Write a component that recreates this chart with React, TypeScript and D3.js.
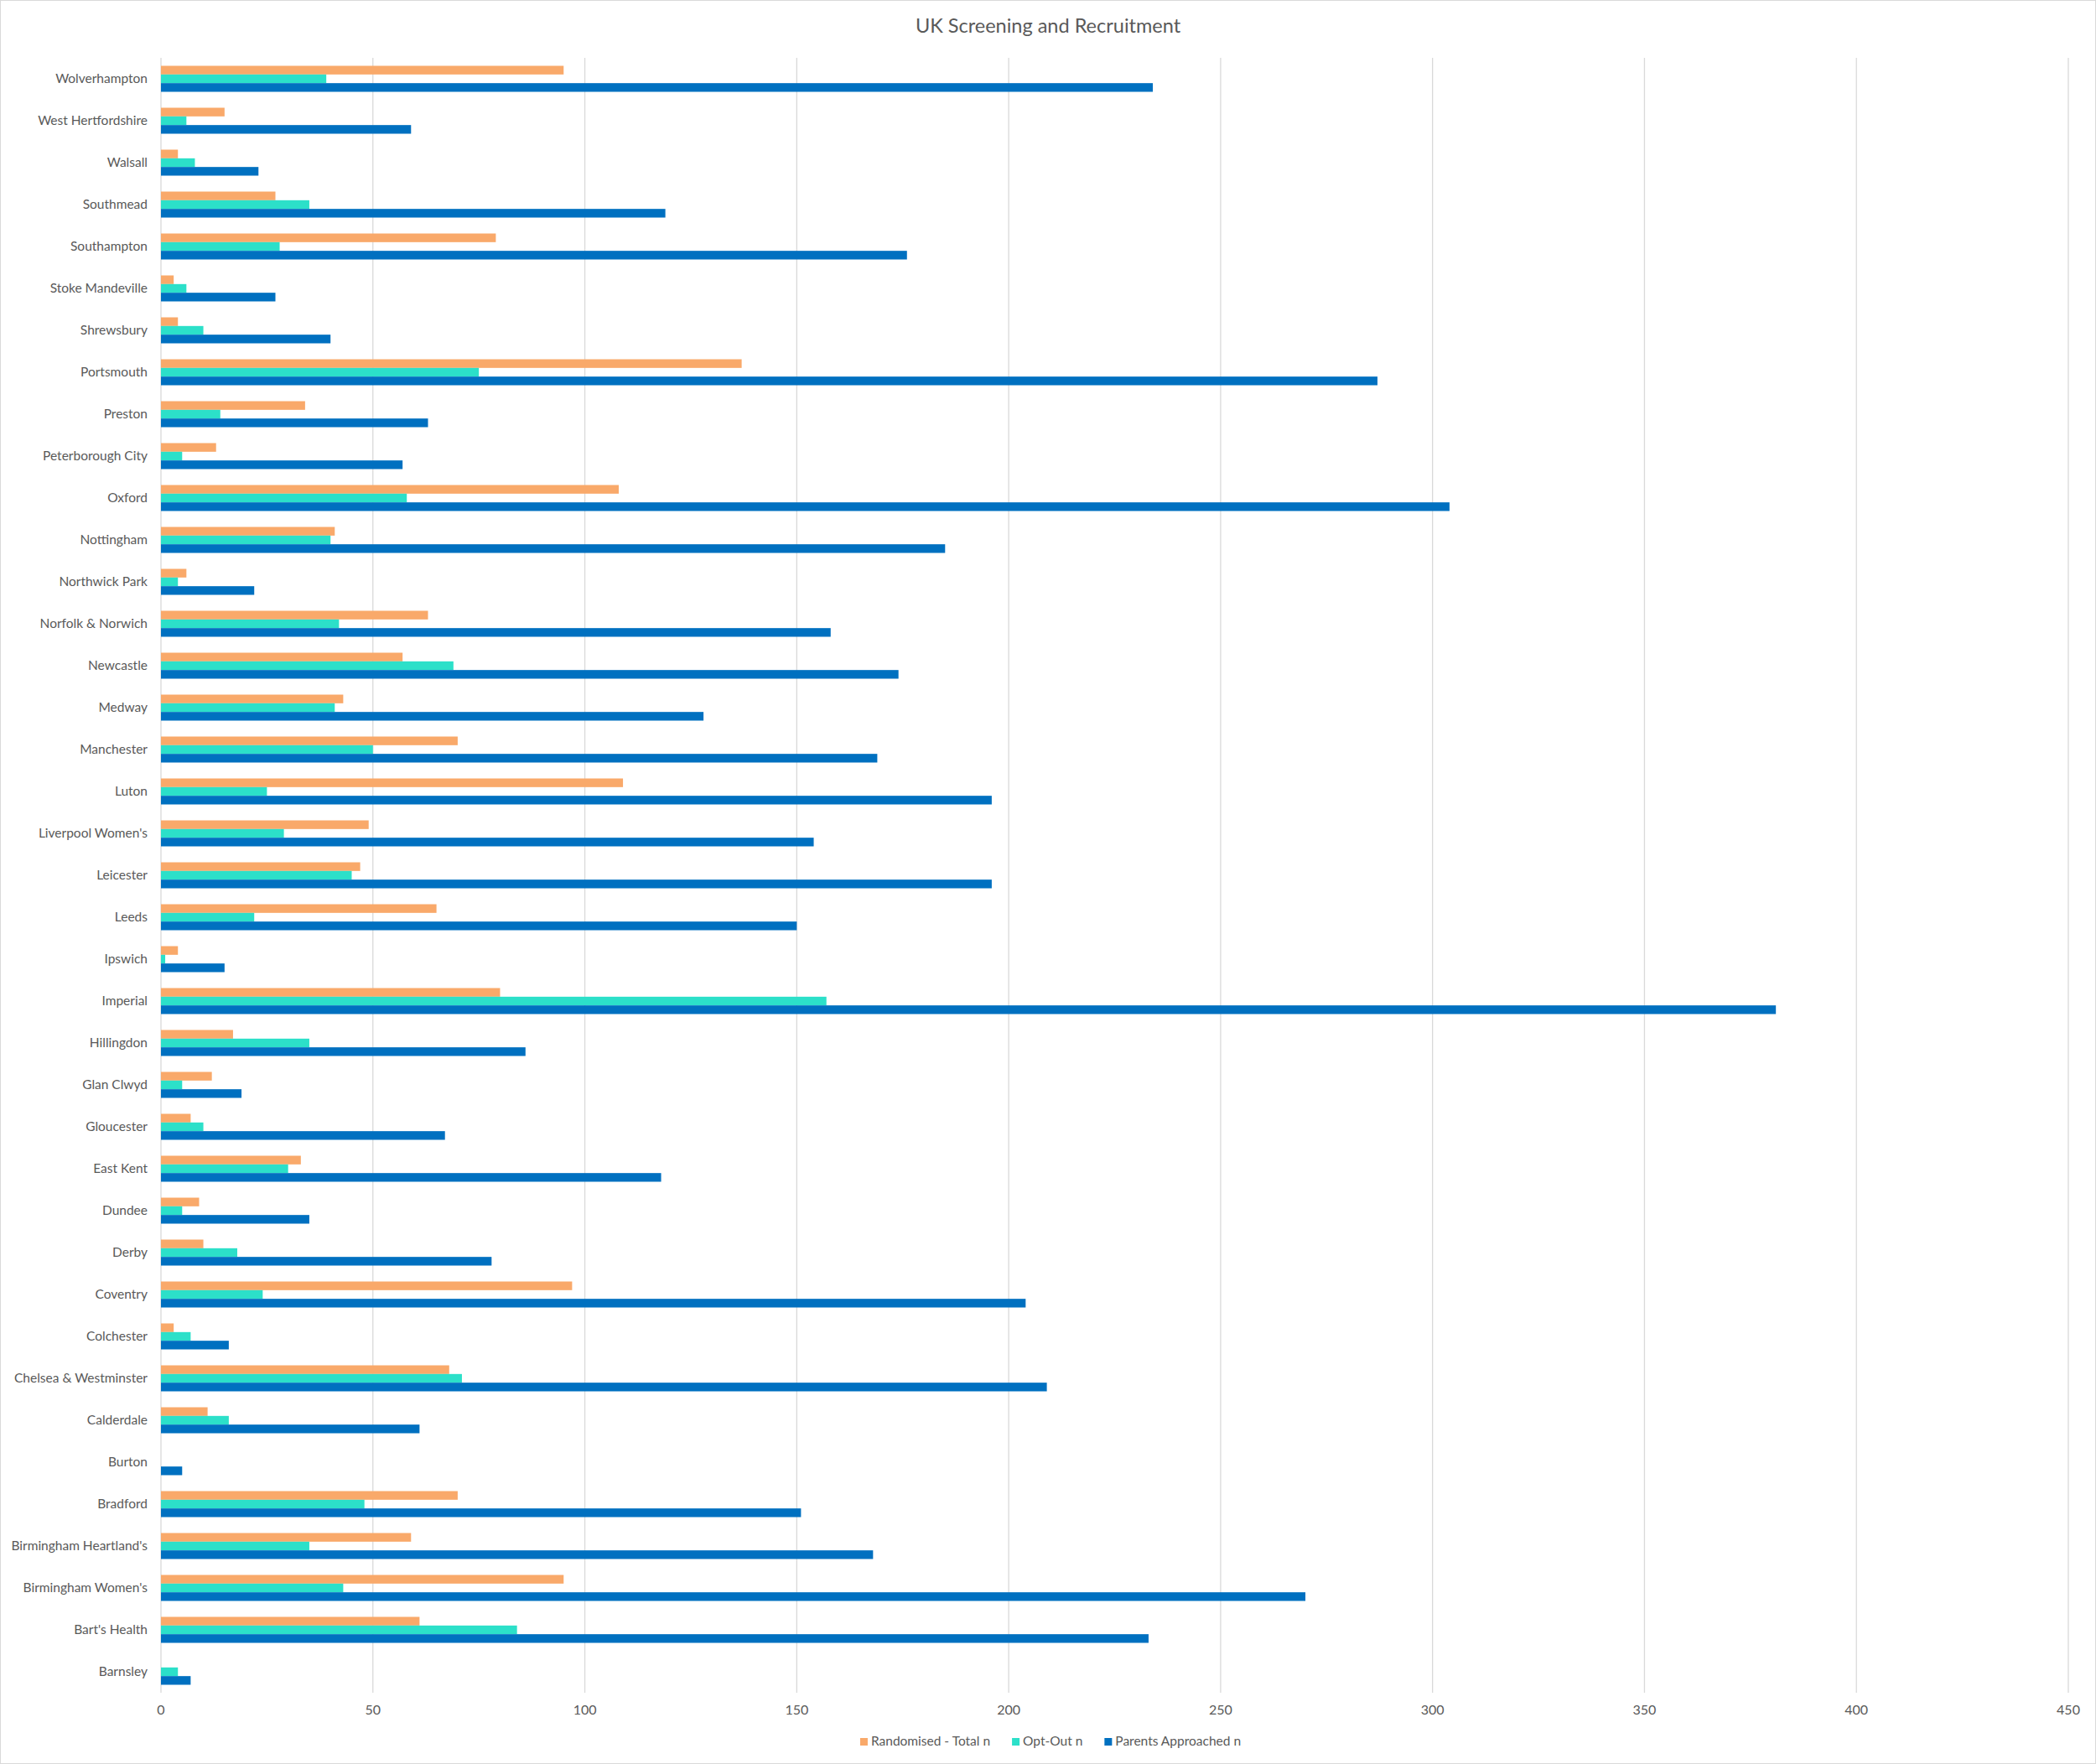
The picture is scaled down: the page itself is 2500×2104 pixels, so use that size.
import { useEffect, useRef } from "react"
import * as d3 from "d3"

// sites, top to bottom as they appear in the chart
const sites = [
  "Wolverhampton",
  "West Hertfordshire",
  "Walsall",
  "Southmead",
  "Southampton",
  "Stoke Mandeville",
  "Shrewsbury",
  "Portsmouth",
  "Preston",
  "Peterborough City",
  "Oxford",
  "Nottingham",
  "Northwick Park",
  "Norfolk & Norwich",
  "Newcastle",
  "Medway",
  "Manchester",
  "Luton",
  "Liverpool Women's",
  "Leicester",
  "Leeds",
  "Ipswich",
  "Imperial",
  "Hillingdon",
  "Glan Clwyd",
  "Gloucester",
  "East Kent",
  "Dundee",
  "Derby",
  "Coventry",
  "Colchester",
  "Chelsea & Westminster",
  "Calderdale",
  "Burton",
  "Bradford",
  "Birmingham Heartland's",
  "Birmingham Women's",
  "Bart's Health",
  "Barnsley",
]

const randomised = [
  95, 15, 4, 27, 79, 3, 4, 137, 34, 13, 108, 41, 6, 63, 57, 43, 70, 109, 49, 47, 65, 4, 80, 17, 12, 7, 33, 9, 10, 97, 3,
  68, 11, 0, 70, 59, 95, 61, 0,
]

const optOut = [
  39, 6, 8, 35, 28, 6, 10, 75, 14, 5, 58, 40, 4, 42, 69, 41, 50, 25, 29, 45, 22, 1, 157, 35, 5, 10, 30, 5, 18, 24, 7, 71,
  16, 0, 48, 35, 43, 84, 4,
]

const approached = [
  234, 59, 23, 119, 176, 27, 40, 287, 63, 57, 304, 185, 22, 158, 174, 128, 169, 196, 154, 196, 150, 15, 381, 86, 19, 67,
  118, 35, 78, 204, 16, 209, 61, 5, 151, 168, 270, 233, 7,
]

const seriesNames = ["Randomised - Total n", "Opt-Out n", "Parents Approached n"]
const seriesColors = ["#F9A96A", "#2CE0C9", "#0070C0"]

const xTicks = [0, 50, 100, 150, 200, 250, 300, 350, 400, 450]

const W = 2500
const H = 2104
const FONT = "Lato, 'Open Sans', sans-serif"
const TEXT = "#595959"

export default function App() {
  const svgRef = useRef<SVGSVGElement>(null)

  useEffect(() => {
    if (!svgRef.current) return
    const svg = d3.select(svgRef.current)
    svg.selectAll("*").remove()

    const plot = { left: 192, right: 2467, top: 69, bottom: 2019 }

    const x = d3.scaleLinear().domain([0, 450]).range([plot.left, plot.right])
    const y = d3.scaleBand<string>().domain(sites).range([plot.top, plot.bottom]).paddingInner(0.38).paddingOuter(0.19)
    const ySub = d3.scaleBand<number>().domain([0, 1, 2]).range([0, y.bandwidth()])

    // chart border
    svg
      .append("rect")
      .attr("x", 0.5)
      .attr("y", 0.5)
      .attr("width", W - 1)
      .attr("height", H - 1)
      .attr("fill", "white")
      .attr("stroke", "#d9d9d9")

    svg
      .append("text")
      .attr("x", 1250)
      .attr("y", 39)
      .attr("text-anchor", "middle")
      .style("font-family", FONT)
      .style("font-size", "23.5px")
      .style("fill", TEXT)
      .text("UK Screening and Recruitment")

    // vertical gridlines
    svg
      .append("g")
      .selectAll("line")
      .data(xTicks)
      .enter()
      .append("line")
      .attr("x1", (d) => x(d))
      .attr("x2", (d) => x(d))
      .attr("y1", plot.top)
      .attr("y2", plot.bottom)
      .attr("stroke", "#d9d9d9")
      .attr("stroke-width", 1.3)

    svg
      .append("g")
      .selectAll("text")
      .data(xTicks)
      .enter()
      .append("text")
      .attr("x", (d) => x(d))
      .attr("y", 2045)
      .attr("text-anchor", "middle")
      .style("font-family", FONT)
      .style("font-size", "16px")
      .style("fill", TEXT)
      .text((d) => d)

    const allSeries = [randomised, optOut, approached]

    const groups = svg
      .append("g")
      .selectAll("g")
      .data(sites)
      .enter()
      .append("g")
      .attr("transform", (d) => `translate(0,${y(d)})`)

    groups
      .selectAll("rect")
      .data((_, i) => allSeries.map((s, k) => ({ k, v: s[i] })))
      .enter()
      .append("rect")
      .attr("x", x(0))
      .attr("y", (d) => ySub(d.k) as number)
      .attr("width", (d) => x(d.v) - x(0))
      .attr("height", ySub.bandwidth())
      .attr("fill", (d) => seriesColors[d.k])

    // category labels
    svg
      .append("g")
      .selectAll("text")
      .data(sites)
      .enter()
      .append("text")
      .attr("x", 176)
      .attr("y", (d) => (y(d) as number) + y.bandwidth() / 2)
      .attr("dy", "0.3em")
      .attr("text-anchor", "end")
      .style("font-family", FONT)
      .style("font-size", "15.5px")
      .style("fill", TEXT)
      .text((d) => d)

    // legend, centred under the plot
    const legend = svg.append("g")
    const items = legend
      .selectAll("g")
      .data(seriesNames)
      .enter()
      .append("g")
    items
      .append("rect")
      .attr("x", 0)
      .attr("y", 2073)
      .attr("width", 9)
      .attr("height", 9)
      .attr("fill", (_, i) => seriesColors[i])
    items
      .append("text")
      .attr("x", 13)
      .attr("y", 2082)
      .style("font-family", FONT)
      .style("font-size", "15.5px")
      .style("fill", TEXT)
      .text((d) => d)

    let offset = 0
    const widths: number[] = []
    items.each(function () {
      const t = d3.select(this).select<SVGTextElement>("text").node()
      widths.push(13 + (t ? t.getComputedTextLength() : 100))
    })
    const total = d3.sum(widths) + 26 * (widths.length - 1)
    const start = 1253 - total / 2
    items.attr("transform", (_, i) => {
      const tx = start + offset
      offset += widths[i] + 26
      return `translate(${tx},0)`
    })
  }, [])

  return (
    <svg
      ref={svgRef}
      width={W}
      height={H}
      style={{ position: "absolute", left: 0, top: 0, background: "white" }}
    ></svg>
  )
}
